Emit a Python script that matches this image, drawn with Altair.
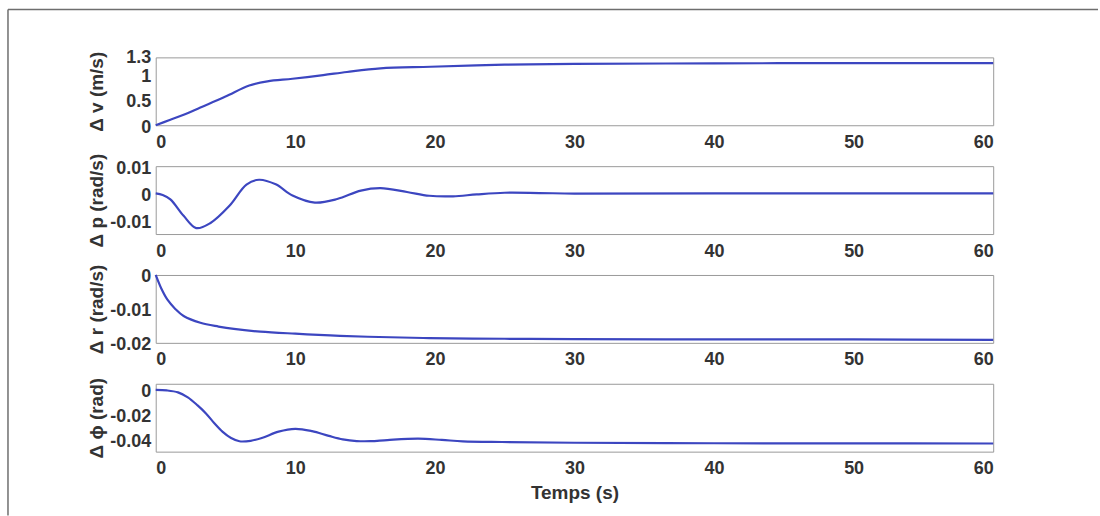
import altair as alt
import pandas as pd

# Time samples and responses for each state variable
t_v = [0, 1, 2, 3.2, 5, 6.7, 8, 9.8, 12, 13.7, 16.1, 19.7, 25, 30, 40, 50, 60]
dv = [0, 0.1, 0.2, 0.34, 0.55, 0.76, 0.84, 0.89, 0.96, 1.02, 1.09, 1.12, 1.16,
      1.175, 1.185, 1.19, 1.19]

t_p = [0, 0.5, 1.05, 2, 2.9, 3.9, 5.3, 6.5, 7.4, 8.6, 9.8, 11.4, 13.0, 14.7,
       16.1, 18, 19.6, 21.3, 23, 25, 27.5, 30, 40, 60]
dp = [0, -0.0006, -0.0022, -0.0083, -0.0128, -0.011, -0.0045, 0.0032, 0.005,
      0.0033, -0.0008, -0.0034, -0.0021, 0.001, 0.0019, 0.0005, -0.0009, -0.0011,
      -0.0004, 0.0002, 0.0001, -0.0001, 0, 0]

t_r = [0, 0.4, 0.84, 1.4, 2, 3.2, 4.5, 5.6, 7.5, 10, 12.5, 15.2, 19.6, 25, 30,
       40, 50, 60]
dr = [0, -0.004, -0.0073, -0.0100, -0.0121, -0.0141, -0.0152, -0.0159, -0.0167,
      -0.0173, -0.0178, -0.0182, -0.0186, -0.0188, -0.0189, -0.019, -0.019, -0.0191]

t_phi = [0, 0.8, 1.6, 2.3, 3.0, 3.6, 4.2, 4.8, 5.4, 6.0, 6.8, 7.6, 8.8, 10,
         11.2, 12.4, 13.4, 14.4, 15.4, 16.6, 18.8, 20.5, 22, 24.8, 30, 40, 50, 60]
dphi = [0, -0.0004, -0.002, -0.006, -0.0125, -0.019, -0.027, -0.034, -0.039,
        -0.0416, -0.0412, -0.039, -0.0338, -0.0315, -0.0334, -0.0372, -0.0400,
        -0.0414, -0.0415, -0.0406, -0.0395, -0.0405, -0.0416, -0.0422, -0.0428,
        -0.0432, -0.0433, -0.0434]

x_ticks = [0, 10, 20, 30, 40, 50, 60]

panels = [
    (t_v, dv, "Δ v (m/s)", [0, 1.3], [0, 0.5, 1, 1.3]),
    (t_p, dp, "Δ p (rad/s)", [-0.015, 0.01], [-0.01, 0, 0.01]),
    (t_r, dr, "Δ r (rad/s)", [-0.02, 0], [-0.02, -0.01, 0]),
    (t_phi, dphi, "Δ ϕ (rad)", [-0.05, 0.005], [-0.04, -0.02, 0]),
]

LINE = "#3c46c0"
FONT = "Liberation Sans"
W, H = 839, 68

charts = []
for i, (ts, ys, ytitle, ydom, yticks) in enumerate(panels):
    df = pd.DataFrame({"t": ts, "y": ys})
    last = i == len(panels) - 1
    line = alt.Chart(df).mark_line(
        color=LINE, strokeWidth=2.2, interpolate="catmull-rom"
    ).encode(
        x=alt.X(
            "t:Q",
            scale=alt.Scale(domain=[0, 60], nice=False),
            axis=alt.Axis(
                values=x_ticks,
                title="Temps (s)" if last else None,
                labelPadding=8,
                titlePadding=6,
            ),
        ),
        y=alt.Y(
            "y:Q",
            scale=alt.Scale(domain=ydom, nice=False, zero=False),
            axis=alt.Axis(
                values=yticks,
                title=ytitle,
                labelExpr="'' + datum.value",
                labelOverlap=False,
                labelOffset=alt.ExprRef(
                    expr="datum.value == 1.3 ? 0 : (datum.value == 1 ? 3 : 2)"
                ),
                labelPadding=5,
                titleX=-59,
                titleY=H / 2,
                titleAngle=270,
                titleAlign="center",
                titleBaseline="middle",
            ),
        ),
    )
    layer = line
    if i == 0:
        # outer frame around the whole figure (top and left edges)
        frame = alt.Chart(pd.DataFrame({"k": [0]}))
        top = frame.mark_rule(color="#6e6e6e", strokeWidth=1.5).encode(
            x=alt.value(-148), x2=alt.value(944), y=alt.value(-48)
        )
        left = frame.mark_rule(color="#6e6e6e", strokeWidth=1.5).encode(
            x=alt.value(-148), y=alt.value(-48), y2=alt.value(459)
        )
        layer = alt.layer(line, top, left)
    charts.append(layer.properties(width=W, height=H))

chart = alt.vconcat(*charts, spacing=41, bounds="flush").properties(
    padding={"left": 6, "top": 7, "right": 0, "bottom": 0},
    background="white",
).configure_view(
    stroke="#9a9a9a", strokeWidth=1
).configure_axis(
    labelFont=FONT,
    labelFontWeight="bold",
    labelFontSize=18,
    labelColor="#333333",
    titleFont=FONT,
    titleFontWeight="bold",
    titleFontSize=19,
    titleColor="#333333",
    domain=False,
    ticks=False,
    grid=False,
)

chart.save("out.html", embed_options={"renderer": "svg", "actions": False})
